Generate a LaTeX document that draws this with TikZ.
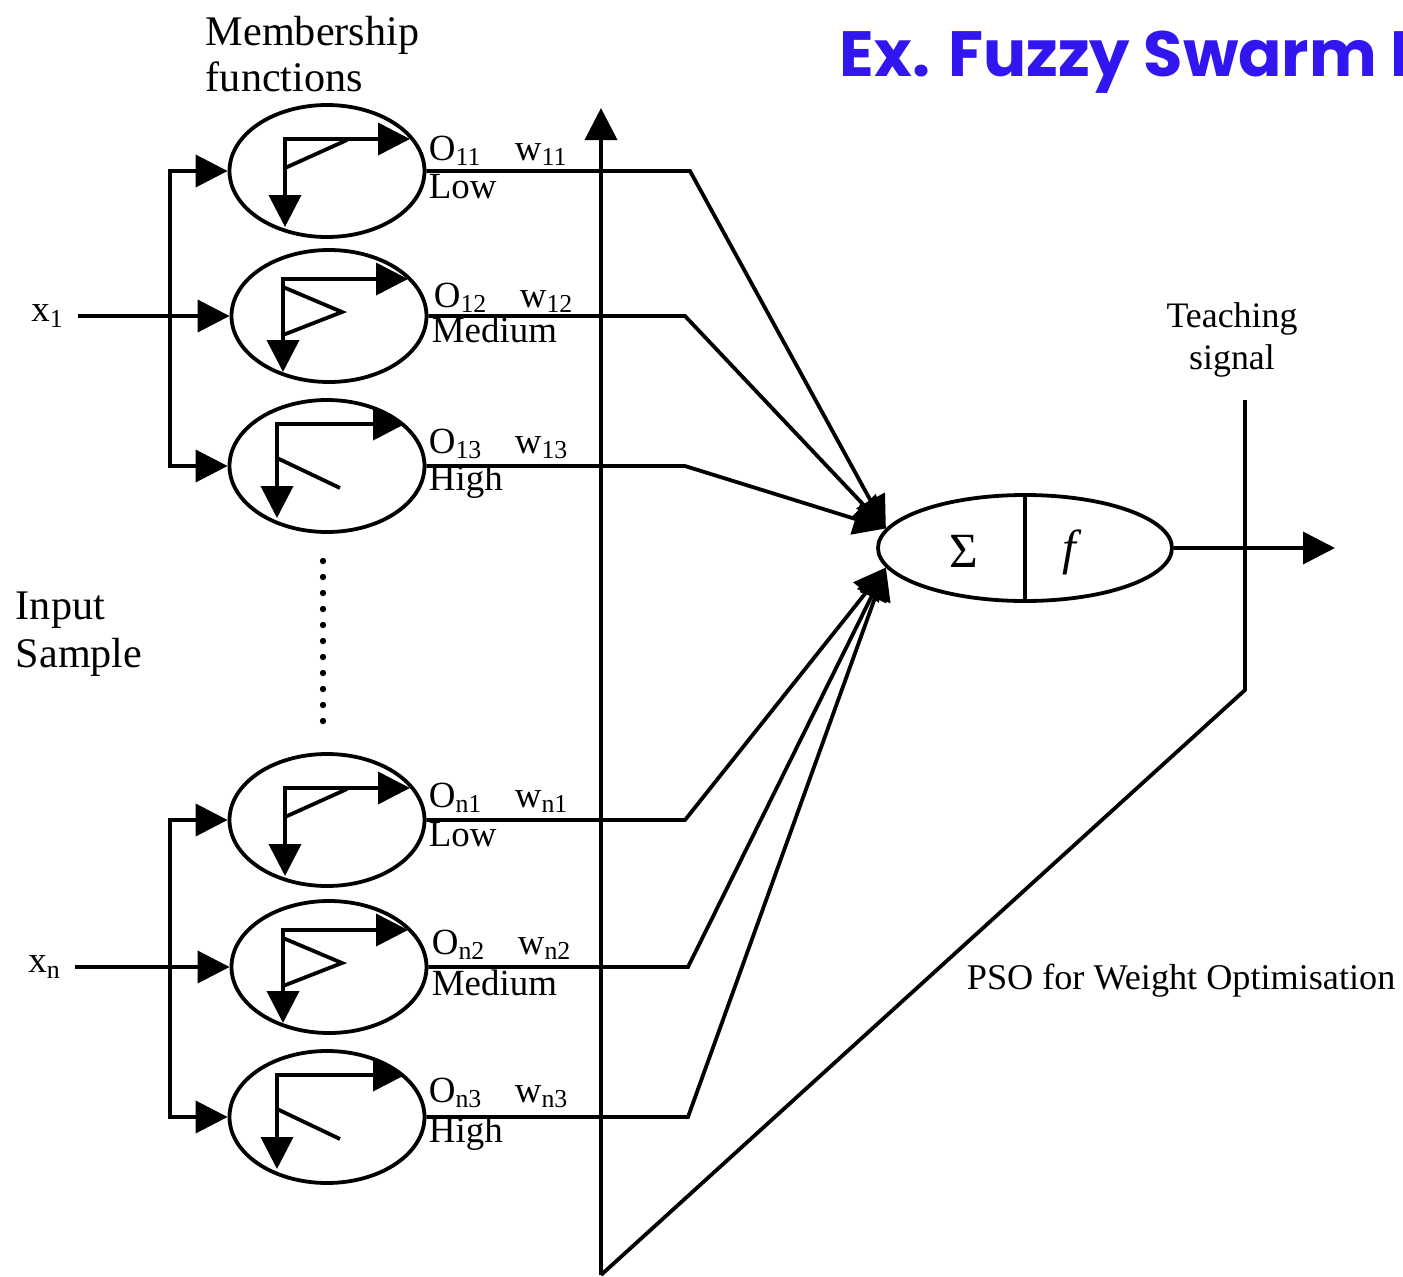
\documentclass[tikz,border=0pt]{standalone}
\usepackage{fontspec}
\setmainfont{Liberation Serif}
\newfontfamily\titlefont{Poppins}
\usetikzlibrary{arrows.meta,shapes.geometric}
\definecolor{titleblue}{RGB}{50,22,240}

\begin{document}
\begin{tikzpicture}[x=0.1mm,y=-0.1mm,line width=0.38mm,
  arr/.style={-{Triangle[length=3.2mm,width=3.2mm]}},
  arrs/.style={{Triangle[length=3.2mm,width=3.2mm]}-{Triangle[length=3.2mm,width=3.2mm]}},
  mf/.style={draw,ellipse,minimum width=19.5mm,minimum height=13.2mm,inner sep=0pt},
  lbl/.style={anchor=base west,inner sep=0pt,font=\fontsize{10.5}{12}\selectfont},
  inp/.style={inner sep=1.2mm,font=\fontsize{10.5}{12}\selectfont}]
\useasboundingbox (0,0) rectangle (1403,1277);
% captions
\node[anchor=base west,inner sep=0pt,text=titleblue,font=\titlefont\bfseries\fontsize{18.2}{22}\selectfont] (title) at (838,76) {Ex. Fuzzy Swarm I};
\node[anchor=north west,align=left,inner sep=0pt,font=\fontsize{12}{13.3}\selectfont] (mfcap) at (204,14) {Membership\\functions};
\node[anchor=north west,align=left,inner sep=0pt,font=\fontsize{12}{13.6}\selectfont] (insample) at (14,590) {Input\\Sample};
\node[anchor=north,align=center,inner sep=0pt,font=\fontsize{10.2}{12}\selectfont] (teach) at (1232,301) {Teaching\\signal};
\node[anchor=base west,inner sep=0pt,font=\fontsize{10.3}{12}\selectfont] (pso) at (965,989) {PSO for Weight Optimisation};

% membership function blocks
\node[mf] (e11) at (327,171) {};
\node[mf] (e12) at (329,316) {};
\node[mf] (e13) at (327,466) {};
\node[mf] (en1) at (327,820) {};
\node[mf] (en2) at (329,967) {};
\node[mf] (en3) at (327,1117) {};
\foreach \e in {e11,en1}{
  \begin{scope}[shift={(\e.center)}]
  \draw[arrs] (-42,56) -- (-42,-32) -- (83,-32);
  \draw (-42,-3) -- (20,-31);
  \end{scope}}
\foreach \e in {e12,en2}{
  \begin{scope}[shift={(\e.center)}]
  \draw[arrs] (-46,56) -- (-46,-37) -- (79,-37);
  \draw (-46,-29) -- (13,-4) -- (-46,19);
  \end{scope}}
\foreach \e in {e13,en3}{
  \begin{scope}[shift={(\e.center)}]
  \draw[arrs] (-50,52) -- (-50,-42) -- (78,-42);
  \draw (-50,-8) -- (13,22);
  \end{scope}}
\foreach \y in {561,577,...,721} \fill (323,\y) circle (0.32mm);

% inputs
\node[inp] (x1) at (48,316) {x\textsubscript{1}};
\node[inp] (xn) at (45,967) {x\textsubscript{n}};
\coordinate (b1) at (170,316);
\coordinate (bn) at (170,967);
\draw[arr] (x1) -- (e12);
\draw[arr] (b1) |- (e11);
\draw[arr] (b1) |- (e13);
\draw[arr] (xn) -- (en2);
\draw[arr] (bn) |- (en1);
\draw[arr] (bn) |- (en3);

% neuron
\node[draw,ellipse,minimum width=29.4mm,minimum height=10.6mm,inner sep=0pt] (sum) at (1025,548) {};
\draw (sum.north) -- (sum.south);
\node[font=\fontsize{14}{16}\selectfont] (sigma) at (964,551) {Σ};
\node[font=\fontsize{14}{16}\selectfont\itshape] (fn) at (1069,552) {f};
\coordinate (out) at (1335,548);
\draw[arr] (sum) -- (out);

% weighted outputs
\coordinate (k11) at (690,171);
\coordinate (k12) at (685,316);
\coordinate (k13) at (685,466);
\coordinate (kn1) at (685,820);
\coordinate (kn2) at (688,967);
\coordinate (kn3) at (688,1117);
\draw[arr] (e11) -- (k11) -- (sum.172);
\draw[arr] (e12) -- (k12) -- (sum.172);
\draw[arr] (e13) -- (k13) -- (sum.172);
\draw[arr] (en1) -- (kn1) -- (sum.188);
\draw[arr] (en2) -- (kn2) -- (sum.188);
\draw[arr] (en3) -- (kn3) -- (sum.188);
\node[lbl] (o11) at (427,160) {O\textsubscript{11}};
\node[lbl] (w11) at (513,160) {w\textsubscript{11}};
\node[lbl] (l11) at (427,198) {Low};
\node[lbl] (o12) at (432,307) {O\textsubscript{12}};
\node[lbl] (w12) at (518,307) {w\textsubscript{12}};
\node[lbl] (l12) at (430,342) {Medium};
\node[lbl] (o13) at (427,453) {O\textsubscript{13}};
\node[lbl] (w13) at (513,453) {w\textsubscript{13}};
\node[lbl] (l13) at (427,490) {High};
\node[lbl] (on1) at (427,807) {O\textsubscript{n1}};
\node[lbl] (wn1) at (513,807) {w\textsubscript{n1}};
\node[lbl] (ln1) at (427,846) {Low};
\node[lbl] (on2) at (430,954) {O\textsubscript{n2}};
\node[lbl] (wn2) at (516,954) {w\textsubscript{n2}};
\node[lbl] (ln2) at (430,995) {Medium};
\node[lbl] (on3) at (427,1102) {O\textsubscript{n3}};
\node[lbl] (wn3) at (513,1102) {w\textsubscript{n3}};
\node[lbl] (ln3) at (427,1142) {High};

% teaching signal and PSO feedback
\coordinate (t1) at (1245,400);
\coordinate (t2) at (1245,690);
\coordinate (ax0) at (601,1275);
\coordinate (ax1) at (601,108);
\draw (t1) -- (t2) -- (ax0);
\draw[arr] (ax0) -- (ax1);
\end{tikzpicture}
\end{document}
